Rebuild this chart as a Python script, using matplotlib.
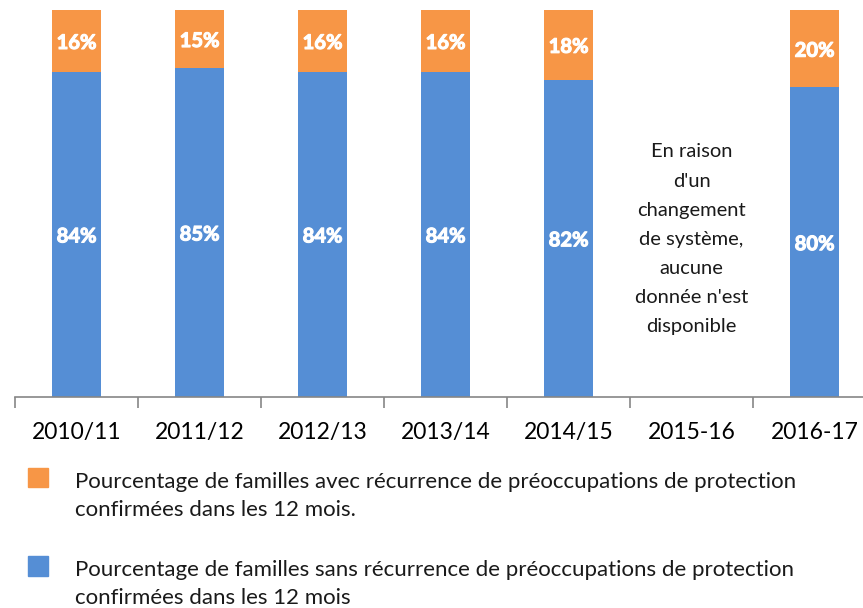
import matplotlib
matplotlib.use("Agg")
import matplotlib.pyplot as plt
from matplotlib.patches import Rectangle
import matplotlib.patheffects as pe
import numpy as np

categories = ["2010/11", "2011/12", "2012/13", "2013/14", "2014/15", "2015-16", "2016-17"]
sans_recurrence = [84, 85, 84, 84, 82, None, 80]
avec_recurrence = [16, 15, 16, 16, 18, None, 20]
legend_labels = [
    "Pourcentage de familles avec récurrence de préoccupations de protection\nconfirmées dans les 12 mois.",
    "Pourcentage de familles sans récurrence de préoccupations de protection\nconfirmées dans les 12 mois",
]
missing_note = "En raison\nd'un\nchangement\nde système,\naucune\ndonnée n'est\ndisponible"

BLUE = "#558ED5"
ORANGE = "#F79646"
FONT = "Lato"
plt.rcParams['font.family'] = [FONT, 'DejaVu Sans']

W, H = 863, 608
fig = plt.figure(figsize=(W / 100, H / 100), dpi=100)
ax = fig.add_axes([15 / W, 1 - 397 / H, 861 / W, 387 / H])

bold = [pe.withStroke(linewidth=0.8, foreground="white")]
x = np.arange(len(categories))
for i, (b, o) in enumerate(zip(sans_recurrence, avec_recurrence)):
    if b is None:
        continue
    ax.bar(i, b, width=0.4, color=BLUE, zorder=2)
    ax.bar(i, o, width=0.4, bottom=b, color=ORANGE, zorder=2)
    ax.text(i, b / 2, f"{b}%", ha="center", va="center_baseline", color="white",
            fontsize=14.5, fontweight="bold", path_effects=bold)
    ax.text(i, b + o / 2, f"{o}%", ha="center", va="center_baseline", color="white",
            fontsize=14.5, fontweight="bold", path_effects=bold)

miss = categories.index("2015-16")
ax.text(miss, 40.8, missing_note, ha="center", va="center", fontsize=14.5,
        linespacing=1.86, color="#1a1a1a")

ax.set_xlim(-0.5, len(categories) - 0.5)
ax.set_ylim(0, 100)
for s in ["top", "right", "left"]:
    ax.spines[s].set_visible(False)
ax.spines["bottom"].set_color("#868686")
ax.spines["bottom"].set_linewidth(1.2)
ax.set_yticks([])
ax.set_xticks(x)
ax.set_xticklabels(categories, fontsize=16.5)
ax.tick_params(axis="x", length=0, pad=18)
ax.set_xticks(np.arange(-0.5, len(categories), 1), minor=True)
ax.tick_params(axis="x", which="minor", length=8, color="#868686", width=1.2)

# legend
for (label, color, y0, y1) in [(legend_labels[0], ORANGE, 468, 487), (legend_labels[1], BLUE, 556, 576)]:
    fig.patches.append(Rectangle((28 / W, 1 - y1 / H), 20 / W, (y1 - y0) / H,
                                 transform=fig.transFigure, color=color))
    fig.text(75 / W, 1 - (y0 + 28) / H, label, ha="left", va="center", fontsize=16,
             linespacing=1.55, color="#1a1a1a")

fig.savefig("out.png", dpi=100)
